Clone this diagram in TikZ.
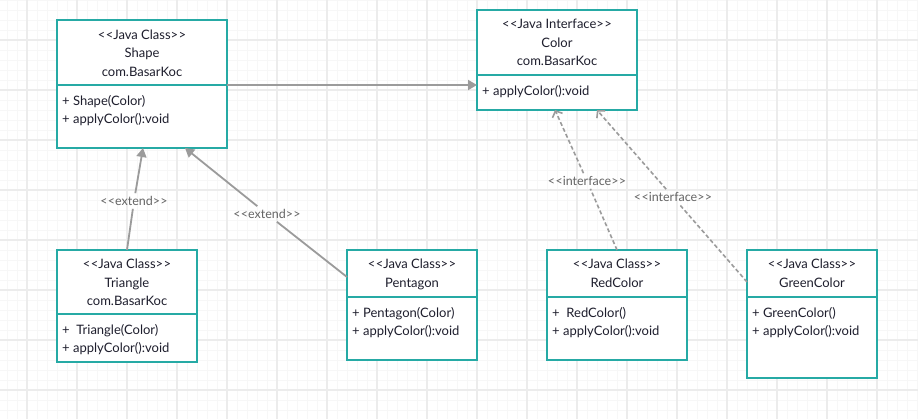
\documentclass[tikz,border=0pt]{standalone}
\usepackage{fontspec}
\setmainfont{Lato}
\usetikzlibrary{arrows.meta,calc}
\definecolor{tealb}{RGB}{38,170,165}
\definecolor{ink}{RGB}{30,30,45}
\definecolor{conn}{RGB}{155,155,155}
\definecolor{lbl}{RGB}{100,100,100}
\definecolor{gmin}{RGB}{247,247,247}
\definecolor{gmaj}{RGB}{236,236,236}
\newcommand\stL{<\kern0.3pt<}
\newcommand\stR{>\kern0.3pt>}
\begin{document}
\begin{tikzpicture}[x=1pt,y=-1pt,
 box/.style={draw=tealb,line width=1.8pt,fill=white,anchor=north west,inner sep=0pt,outer sep=0pt},
 hdr/.style={text=ink,font=\fontsize{13}{18.5}\selectfont,align=center,inner sep=0pt,anchor=north},
 body/.style={text=ink,font=\fontsize{13}{18.3}\selectfont,align=left,inner sep=0pt,anchor=north west},
 divider/.style={draw=tealb,line width=1.8pt},
 seg/.style={draw=conn,line width=1.8pt},
 ext/.style={draw=conn,fill=conn,line width=1.8pt,-{Triangle[length=9pt,width=10pt]}},
 dseg/.style={draw=conn,line width=1.6pt,dash pattern=on 4pt off 2.5pt},
 impl/.style={draw=conn,line width=1.6pt,dash pattern=on 4pt off 2.5pt,-{Straight Barb[length=5pt,width=11pt,line width=1.6pt]}},
 lab/.style={text=lbl,font=\fontsize{12.5}{14}\selectfont,inner sep=3pt}]
\useasboundingbox (0,0) rectangle (918,419);
\fill[white] (0,0) rectangle (918,419);
% grid
\foreach \x in {7,17,...,917} \draw[gmin,line width=0.8pt] (\x,0) -- (\x,419);
\foreach \y in {0,10,...,419} \draw[gmin,line width=0.8pt] (0,\y) -- (918,\y);
\foreach \x in {27,77,...,877} \draw[gmaj,line width=1.4pt] (\x,0) -- (\x,419);
\foreach \y in {40,90,...,390} \draw[gmaj,line width=1.4pt] (0,\y) -- (918,\y);

% Shape
\node[box,minimum width=170pt,minimum height=128pt] (shape) at (57,20) {};
\draw[divider] ($(shape.north west)+(0,65)$) -- ($(shape.north east)+(0,65)$);
\node[hdr] (shapeH) at ($(shape.north)+(0,9.5)$) {\stL Java Class\stR\\Shape\\com.BasarKoc};
\node[body] (shapeB) at ($(shape.north west)+(5,75)$) {+ Shape(Color)\\+ applyColor():void};

% Color
\node[box,minimum width=160pt,minimum height=100pt] (color) at (477,10) {};
\draw[divider] ($(color.north west)+(0,65)$) -- ($(color.north east)+(0,65)$);
\node[hdr] (colorH) at ($(color.north)+(0,9)$) {\stL Java Interface\stR\\Color\\com.BasarKoc};
\node[body] (colorB) at ($(color.north west)+(5,75.5)$) {+ applyColor():void};

% Triangle
\node[box,minimum width=140pt,minimum height=112pt] (tri) at (57,250) {};
\draw[divider] ($(tri.north west)+(0,64)$) -- ($(tri.north east)+(0,64)$);
\node[hdr] (triH) at ($(tri.north)+(0,9)$) {\stL Java Class\stR\\Triangle\\com.BasarKoc};
\node[body] (triB) at ($(tri.north west)+(5,74)$) {+ \ Triangle(Color)\\+ applyColor():void};

% Pentagon
\node[box,minimum width=130pt,minimum height=110pt] (pent) at (347,250) {};
\draw[divider] ($(pent.north west)+(0,47)$) -- ($(pent.north east)+(0,47)$);
\node[hdr] (pentH) at ($(pent.north)+(0,9)$) {\stL Java Class\stR\\Pentagon};
\node[body] (pentB) at ($(pent.north west)+(5,57)$) {+ Pentagon(Color)\\+ applyColor():void};

% RedColor
\node[box,minimum width=140pt,minimum height=110pt] (red) at (547,250) {};
\draw[divider] ($(red.north west)+(0,47)$) -- ($(red.north east)+(0,47)$);
\node[hdr] (redH) at ($(red.north)+(0,9)$) {\stL Java Class\stR\\RedColor};
\node[body] (redB) at ($(red.north west)+(5,57)$) {+ \ RedColor()\\+ applyColor():void};

% GreenColor
\node[box,minimum width=130pt,minimum height=128pt] (green) at (747,250) {};
\draw[divider] ($(green.north west)+(0,47)$) -- ($(green.north east)+(0,47)$);
\node[hdr] (greenH) at ($(green.north)+(0,9)$) {\stL Java Class\stR\\GreenColor};
\node[body] (greenB) at ($(green.north west)+(5,57)$) {+ GreenColor()\\+ applyColor():void};

% Shape -> Color
\draw[ext] ($(shape.north east)+(0,65)$) -- ($(color.north west)+(0,75)$);

% labels
\node[lab] (l1) at (134,201) {\stL extend\stR};
\node[lab] (l2) at (267,214) {\stL extend\stR};
\node[lab] (l3) at (587,181) {\stL interface\stR};
\node[lab] (l4) at (673,197) {\stL interface\stR};

% Triangle -> Shape
\draw[seg] ($(tri.north west)+(70,0)$) -- (l1);
\draw[ext] (l1) -- ($(shape.south west)+(86,0)$);
% Pentagon -> Shape
\draw[seg] ($(pent.north west)+(0,27)$) -- (l2);
\draw[ext] (l2) -- ($(shape.south west)+(128,0)$);
% RedColor -> Color
\draw[dseg] ($(red.north west)+(70,0)$) -- (l3);
\draw[impl] (l3) -- ($(color.south west)+(78,0)$);
% GreenColor -> Color
\draw[dseg] ($(green.north west)+(0,32)$) -- (l4);
\draw[impl] (l4) -- ($(color.south west)+(120,0)$);
\end{tikzpicture}
\end{document}
